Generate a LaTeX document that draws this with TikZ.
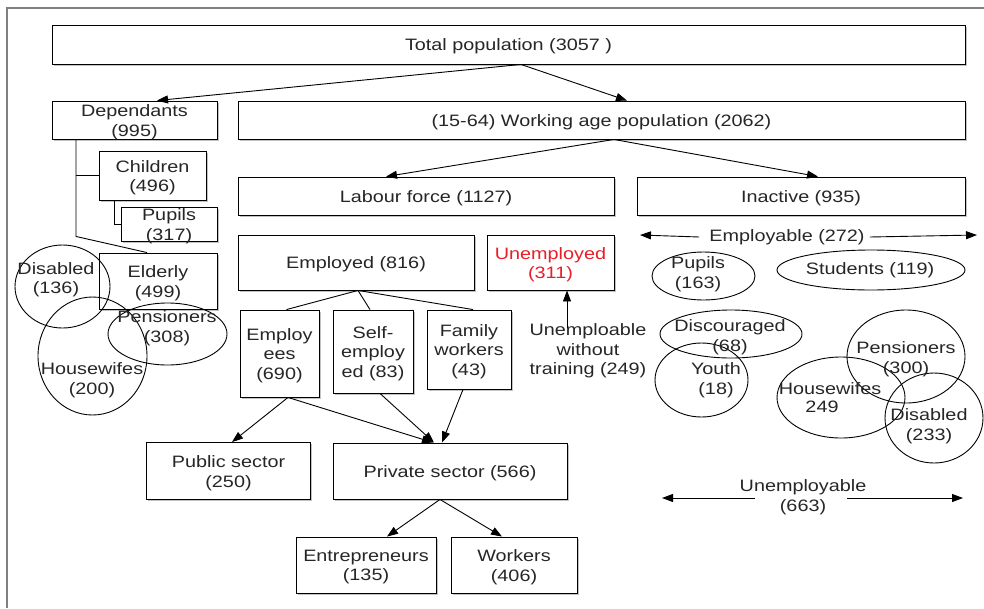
\documentclass[tikz,border=0pt]{standalone}
\usepackage{fontspec}
\setmainfont{Liberation Sans}[FakeStretch=1.2]
\usetikzlibrary{shapes.geometric,arrows.meta,shadows}
\definecolor{unred}{RGB}{232,30,40}
\begin{document}
\begin{tikzpicture}[x=1pt,y=-1pt,
 every node/.style={font=\fontsize{16.5}{19.5}\selectfont, align=center, inner sep=0pt, text=black!85},
 txt/.style={yshift=-2pt},
 box/.style={draw, rectangle, line width=0.9pt, fill=white,
   drop shadow={shadow xshift=1.6pt, shadow yshift=-1.6pt, fill=gray!80, opacity=0.6}},
 ell/.style={draw, ellipse, line width=0.9pt},
 con/.style={line width=0.9pt},
 arr/.style={line width=0.9pt, -{Triangle[length=11pt,width=8pt]}},
]
\useasboundingbox (0,0) rectangle (984,608);
\draw[gray, line width=1.5pt] (984,8) -- (7,8) -- (7,608);

% boxes
\node[box, minimum width=913pt, minimum height=39pt, label={[txt]center:Total population (3057 )}] (total) at (508.5,44.5) {};
\node[box, minimum width=165pt, minimum height=38pt, label={[txt]center:Dependants\\(995)}] (dep) at (134.5,120) {};
\node[box, minimum width=727pt, minimum height=38pt, label={[txt]center:(15-64) Working age population (2062)}] (work) at (601.5,120) {};
\node[box, minimum width=107pt, minimum height=49pt, label={[txt]center:Children\\(496)}] (child) at (152.5,175.5) {};
\node[box, minimum width=96pt, minimum height=34pt, label={[txt]center:Pupils\\(317)}] (pupA) at (169,224) {};
\node[box, minimum width=376pt, minimum height=38pt, label={[txt]center:Labour force (1127)}] (labour) at (426,196) {};
\node[box, minimum width=328pt, minimum height=38pt, label={[txt]center:Inactive (935)}] (inactive) at (801,196) {};
\node[box, minimum width=118pt, minimum height=56pt, label={[txt]center:Elderly\\(499)}] (elderly) at (158,281) {};
\node[box, minimum width=236pt, minimum height=55pt, label={[txt]center:Employed (816)}] (employed) at (356,262.5) {};
\node[box, minimum width=127pt, minimum height=55pt, label={[txt,text=unred]center:Unemployed\\(311)}] (unemp) at (550.5,262.5) {};
\node[box, minimum width=79pt, minimum height=87pt, label={[txt]center:Employ\\ees\\(690)}] (employees) at (279.5,353.5) {};
\node[box, minimum width=80pt, minimum height=83pt, label={[txt]center:Self-\\employ\\ed (83)}] (selfemp) at (373,351.5) {};
\node[box, minimum width=84pt, minimum height=79pt, label={[txt]center:Family\\workers\\(43)}] (family) at (469,349.5) {};
\node[box, minimum width=164pt, minimum height=57pt, label={[txt]center:Public sector\\(250)}] (public) at (228.5,471) {};
\node[box, minimum width=234pt, minimum height=56pt, label={[txt]center:Private sector (566)}] (private) at (450,471) {};
\node[box, minimum width=140pt, minimum height=56pt, label={[txt]center:Entrepreneurs\\(135)}] (entre) at (366,565) {};
\node[box, minimum width=126pt, minimum height=56pt, label={[txt]center:Workers\\(406)}] (workers) at (514,565) {};

% ellipses left
\node[ell, minimum width=95pt, minimum height=83pt] (disL) at (62.5,286.5) {};
\node[ell, minimum width=109pt, minimum height=118pt] (hwL) at (92.5,356) {};
\node[ell, minimum width=119pt, minimum height=62pt] (penL) at (167.5,334) {};
\node[txt] (disLt) at (56,277.5) {Disabled\\(136)};
\node[txt] (hwLt) at (92,378) {Housewifes\\(200)};
\node[txt] (penLt) at (167,326) {Pensioners\\(308)};

% ellipses right
\node[ell, minimum width=103pt, minimum height=48pt] (pupR) at (703.5,276) {};
\node[ell, minimum width=188pt, minimum height=40pt] (stuR) at (871,270) {};
\node[ell, minimum width=142pt, minimum height=48pt] (discR) at (731,334) {};
\node[ell, minimum width=93pt, minimum height=74pt] (youthR) at (701.5,380) {};
\node[ell, minimum width=118pt, minimum height=93pt] (penR) at (906,356.5) {};
\node[ell, minimum width=128pt, minimum height=81pt] (hwR) at (841,397.5) {};
\node[ell, minimum width=98pt, minimum height=90pt] (disR) at (934,418) {};
\node[txt] (pupRt) at (698,272) {Pupils\\(163)};
\node[txt] (stuRt) at (870,268) {Students (119)};
\node[txt] (discRt) at (730,335) {Discouraged\\(68)};
\node[txt] (youthRt) at (716,378) {Youth\\(18)};
\node[txt] (penRt) at (906,357) {Pensioners\\(300)};
\node[txt] (hwRt1) at (830,387) {Housewifes};
\node[txt] (hwRt2) at (822,405) {249};
\node[txt] (disRt) at (929,424) {Disabled\\(233)};

% labels with arrows
\node[txt] (unlbl) at (588,349) {Unemploable\\without\\training (249)};
\node[txt] (emplbl) at (787,235) {Employable (272)};
\node[txt] (unemplbl) at (803,495) {Unemployable\\(663)};
\coordinate (ustart) at (567,328);
\coordinate (eL) at (640,235);
\coordinate (eR) at (977,235);
\coordinate (uL1) at (755,498);
\coordinate (uL2) at (662,498);
\coordinate (uR1) at (847,498);
\coordinate (uR2) at (963,498);

% connectors
\draw[arr] ([xshift=12.5pt]total.south) -- ([xshift=22.5pt]dep.north);
\draw[arr] ([xshift=12.5pt]total.south) -- ([xshift=25.5pt]work.north);
\draw[arr] ([xshift=12.5pt]work.south) -- ([xshift=-40pt]labour.north);
\draw[arr] ([xshift=12.5pt]work.south) -- ([xshift=17pt]inactive.north);

\draw[con] ([xshift=-58.5pt]dep.south) -- ++(0,97) -- ([xshift=-11pt]elderly.north);
\draw[con] (child.west) -- ++(-23,0);
\draw[con] ([xshift=-38.5pt]child.south) |- (pupA.west);

\draw[con] ([xshift=2pt]employed.south) -- ([xshift=7pt]employees.north);
\draw[con] ([xshift=2pt]employed.south) -- ([xshift=-3pt]selfemp.north);
\draw[con] ([xshift=2pt]employed.south) -- ([xshift=4pt]family.north);

\draw[arr] (ustart) -- (ustart |- unemp.south);

\draw[arr] ([xshift=8.5pt]employees.south) -- ([xshift=3.5pt]public.north);
\draw[arr] ([xshift=8.5pt]employees.south) -- ([xshift=-17pt]private.north);
\draw[arr] ([xshift=7pt]selfemp.south) -- ([xshift=-16pt]private.north);
\draw[arr] ([xshift=-6pt]family.south) -- ([xshift=-8pt]private.north);

\draw[arr] ([xshift=-10pt]private.south) -- ([xshift=21pt]entre.north);
\draw[arr] ([xshift=-10pt]private.south) -- ([xshift=-12pt]workers.north);

\draw[arr] ([xshift=-10pt]emplbl.west) -- (eL);
\draw[arr] ([xshift=5pt]emplbl.east) -- (eR);
\draw[arr] (uL1) -- (uL2);
\draw[arr] (uR1) -- (uR2);
\end{tikzpicture}
\end{document}
